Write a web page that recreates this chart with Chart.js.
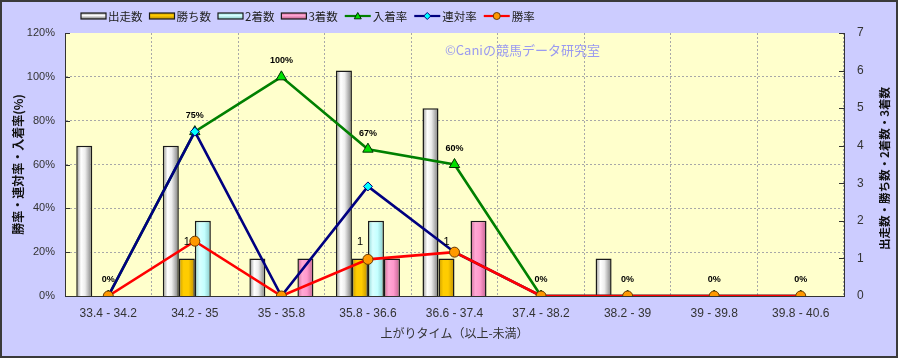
<!DOCTYPE html>
<html><head><meta charset="utf-8">
<script src="https://cdn.jsdelivr.net/npm/chart.js@4.4.0/dist/chart.umd.min.js"></script>
<style>html,body{margin:0;padding:0;background:#CCCCFF;overflow:hidden}canvas{display:block}</style>
</head><body>
<canvas id="c" width="898" height="358"></canvas>
<script>
// ---- data ----
const categories = ['33.4 - 34.2','34.2 - 35','35 - 35.8','35.8 - 36.6','36.6 - 37.4','37.4 - 38.2','38.2 - 39','39 - 39.8','39.8 - 40.6'];
const runners  = [4, 4, 1, 6, 5, 0, 1, 0, 0];   // 出走数
const wins     = [0, 1, 0, 1, 1, 0, 0, 0, 0];   // 勝ち数
const seconds  = [0, 2, 0, 2, 0, 0, 0, 0, 0];   // 2着数
const thirds   = [0, 0, 1, 1, 2, 0, 0, 0, 0];   // 3着数
const placeRate    = [0, 75, 100, 67, 60, 0, 0, 0, 0];  // 入着率
const quinellaRate = [0, 75, 0, 50, 20, 0, 0, 0, 0];    // 連対率
const winRate      = [0, 25, 0, 16.7, 20, 0, 0, 0, 0];  // 勝率
const seriesNames = ['出走数','勝ち数','2着数','3着数','入着率','連対率','勝率'];

const CJK = "'Noto Sans CJK JP','Noto Sans',sans-serif";
const LAT = "'Liberation Sans',Arial,sans-serif";
const CAT_PCT = 0.74;

const barStops = [
  [[0,'#8c8c8c'],[0.3,'#ffffff'],[0.55,'#eeeeee'],[1,'#7a7a7a']],
  [[0,'#c89a00'],[0.3,'#ffcc00'],[0.6,'#ffcc00'],[1,'#c09000']],
  [[0,'#8fd6d6'],[0.3,'#d8ffff'],[0.6,'#c4ffff'],[1,'#84c8c8']],
  [[0,'#d06a9a'],[0.3,'#ffa8d4'],[0.6,'#ff99cc'],[1,'#c0608e']]
];

function barFill(pos) {
  const stops = barStops[pos];
  return function(ctx) {
    const chart = ctx.chart;
    const xs = chart.scales && chart.scales.x;
    if (!xs || ctx.type !== 'data') return stops[1][1];
    const cw = xs.width / categories.length;
    const bw = cw * CAT_PCT / 4;
    const left = xs.getPixelForValue(ctx.dataIndex) - 2 * bw + pos * bw;
    if (!isFinite(left) || !isFinite(bw) || bw <= 0) return stops[1][1];
    const g = chart.ctx.createLinearGradient(left, 0, left + bw, 0);
    stops.forEach(s => g.addColorStop(s[0], s[1]));
    return g;
  };
}

function barDs(label, data, pos) {
  return {
    type: 'bar', label, data, yAxisID: 'y1', order: 10,
    backgroundColor: barFill(pos), borderColor: '#1a1a1a', borderWidth: 1.5,
    barPercentage: 1, categoryPercentage: CAT_PCT
  };
}

const lineStyles = [
  {color:'#008000', point:'triangle', fill:'#00e000', pborder:'#003300', r:6},
  {color:'#000080', point:'rectRot', fill:'#00ffff', pborder:'#000080', r:4.5},
  {color:'#ff0000', point:'circle', fill:'#ff9900', pborder:'#6a3a00', r:5}
];
function lineDs(label, data, st, order) {
  return {
    type: 'line', label, data, yAxisID: 'y', order,
    borderColor: st.color, borderWidth: 2.6, tension: 0, fill: false,
    pointStyle: st.point, pointRadius: st.r, pointHoverRadius: st.r,
    pointBackgroundColor: st.fill, pointBorderColor: st.pborder, pointBorderWidth: 1
  };
}

const bgPlugin = {
  id: 'bg',
  beforeDraw(chart) {
    const {ctx, chartArea: a} = chart;
    ctx.save();
    ctx.fillStyle = '#CCCCFF';
    ctx.fillRect(0, 0, chart.width, chart.height);
    ctx.fillStyle = '#FFFFCC';
    ctx.fillRect(a.left, a.top, a.right - a.left, a.bottom - a.top);
    ctx.restore();
  },
  beforeDatasetsDraw(chart) {
    const {ctx} = chart;
    ctx.save();
    ctx.font = '13px ' + CJK;
    ctx.fillStyle = '#9a9af0';
    ctx.textBaseline = 'middle';
    ctx.textAlign = 'left';
    ctx.fillText('©Caniの競馬データ研究室', 445, 50);
    ctx.restore();
  },
  afterDatasetsDraw(chart) {
    const {ctx} = chart;
    ctx.save();
    ctx.fillStyle = '#000';
    ctx.textAlign = 'center';
    ctx.textBaseline = 'middle';
    // 勝ち数 labels
    ctx.font = '11px ' + LAT;
    chart.getDatasetMeta(1).data.forEach((el, i) => {
      if (wins[i] > 0) ctx.fillText(String(wins[i]), el.x, el.y - 16);
    });
    // 入着率 labels
    ctx.font = 'bold 9px ' + LAT;
    chart.getDatasetMeta(4).data.forEach((el, i) => {
      ctx.fillText(Math.round(placeRate[i]) + '%', el.x, el.y - 16);
    });
    ctx.restore();
  },
  afterDraw(chart) {
    const {ctx, chartArea: a} = chart;
    ctx.save();
    // inward tick marks
    ctx.strokeStyle = '#333';
    ctx.lineWidth = 1;
    const ys = chart.scales.y, y1 = chart.scales.y1;
    ys.ticks.forEach(t => {
      const p = Math.round(ys.getPixelForValue(t.value)) + 0.5;
      ctx.beginPath(); ctx.moveTo(a.left, p); ctx.lineTo(a.left + 5, p); ctx.stroke();
    });
    y1.ticks.forEach(t => {
      const p = Math.round(y1.getPixelForValue(t.value)) + 0.5;
      ctx.beginPath(); ctx.moveTo(a.right - 5, p); ctx.lineTo(a.right, p); ctx.stroke();
    });
    // right axis title (reads bottom to top)
    ctx.save();
    ctx.translate(885, (a.top + a.bottom) / 2 + 4);
    ctx.rotate(-Math.PI / 2);
    ctx.font = 'bold 11.5px ' + CJK;
    ctx.fillStyle = '#111';
    ctx.textAlign = 'center';
    ctx.textBaseline = 'middle';
    ctx.fillText('出走数・勝ち数・2着数・3着数', 0, 0);
    ctx.restore();
    // legend
    let x = 81;
    const cy = 16;
    ctx.font = '11.5px ' + CJK;
    ctx.textBaseline = 'middle';
    ctx.textAlign = 'left';
    seriesNames.forEach((name, i) => {
      if (i < 4) {
        const g = ctx.createLinearGradient(0, cy - 3, 0, cy + 3);
        const st = barStops[i];
        g.addColorStop(0, st[0][1]); g.addColorStop(0.4, st[1][1]); g.addColorStop(1, st[3][1]);
        ctx.fillStyle = g;
        ctx.fillRect(x, cy - 3, 25, 6);
        ctx.strokeStyle = '#1a1a1a'; ctx.lineWidth = 1.2;
        ctx.strokeRect(x, cy - 3, 25, 6);
      } else {
        const st = lineStyles[i - 4];
        ctx.strokeStyle = st.color; ctx.lineWidth = 2.2;
        ctx.beginPath(); ctx.moveTo(x, cy); ctx.lineTo(x + 26, cy); ctx.stroke();
        ctx.fillStyle = st.fill; ctx.strokeStyle = st.pborder; ctx.lineWidth = 1;
        const mx = x + 13, r = 3.5;
        ctx.beginPath();
        if (st.point === 'triangle') {
          ctx.moveTo(mx, cy - r); ctx.lineTo(mx + r, cy + r * 0.8); ctx.lineTo(mx - r, cy + r * 0.8); ctx.closePath();
        } else if (st.point === 'rectRot') {
          ctx.moveTo(mx, cy - r); ctx.lineTo(mx + r, cy); ctx.lineTo(mx, cy + r); ctx.lineTo(mx - r, cy); ctx.closePath();
        } else {
          ctx.arc(mx, cy, r, 0, Math.PI * 2);
        }
        ctx.fill(); ctx.stroke();
      }
      const bw = i < 4 ? 25 : 26;
      ctx.fillStyle = '#222';
      ctx.fillText(name, x + bw + 2, cy + 0.5);
      x += bw + 2 + ctx.measureText(name).width + 7;
    });
    // outer frame
    ctx.strokeStyle = '#3a3a3a';
    ctx.lineWidth = 2;
    ctx.strokeRect(1, 1, chart.width - 2, chart.height - 2);
    ctx.restore();
  }
};

new Chart(document.getElementById('c'), {
  type: 'bar',
  data: {
    labels: categories,
    datasets: [
      barDs(seriesNames[0], runners, 0),
      barDs(seriesNames[1], wins, 1),
      barDs(seriesNames[2], seconds, 2),
      barDs(seriesNames[3], thirds, 3),
      lineDs(seriesNames[4], placeRate, lineStyles[0], 3),
      lineDs(seriesNames[5], quinellaRate, lineStyles[1], 2),
      lineDs(seriesNames[6], winRate, lineStyles[2], 1)
    ]
  },
  options: {
    responsive: false,
    animation: false,
    devicePixelRatio: 1,
    layout: { padding: { top: 33, left: 0, right: 0, bottom: 0 } },
    plugins: { legend: { display: false }, tooltip: { enabled: false } },
    scales: {
      x: {
        grid: { display: true, offset: true, color: '#a8a8a8', lineWidth: 1, drawTicks: false },
        border: { display: true, color: '#333', width: 1, dash: [2, 2] },
        ticks: { color: '#333', font: { size: 12, family: LAT }, padding: 10, maxRotation: 0, autoSkip: false },
        title: { display: true, text: '上がりタイム（以上-未満）', color: '#333', font: { size: 12, family: CJK }, padding: { top: 0, bottom: 17 } },
        afterFit(s) { s.height = 62; }
      },
      y: {
        position: 'left', min: 0, max: 120,
        grid: { drawTicks: false, lineWidth: 1, color: c => (c.tick && (c.tick.value === 0 || c.tick.value === 120)) ? 'rgba(0,0,0,0)' : '#a8a8a8' },
        border: { display: true, color: '#333', width: 1, dash: [2, 2] },
        ticks: { stepSize: 20, color: '#333', font: { size: 11, family: LAT }, padding: 10, callback: v => v + '%' },
        title: { display: true, text: '勝率・連対率・入着率(%)', color: '#111', font: { size: 12, weight: 'bold', family: CJK }, padding: { top: 11 } },
        afterFit(s) { s.width = 65; }
      },
      y1: {
        position: 'right', min: 0, max: 7,
        grid: { display: false, drawTicks: false },
        border: { display: true, color: '#333', width: 1 },
        ticks: { stepSize: 1, color: '#333', font: { size: 12, family: LAT }, padding: 13 },
        afterFit(s) { s.width = 54; }
      }
    }
  },
  plugins: [bgPlugin]
});
</script>
</body></html>
